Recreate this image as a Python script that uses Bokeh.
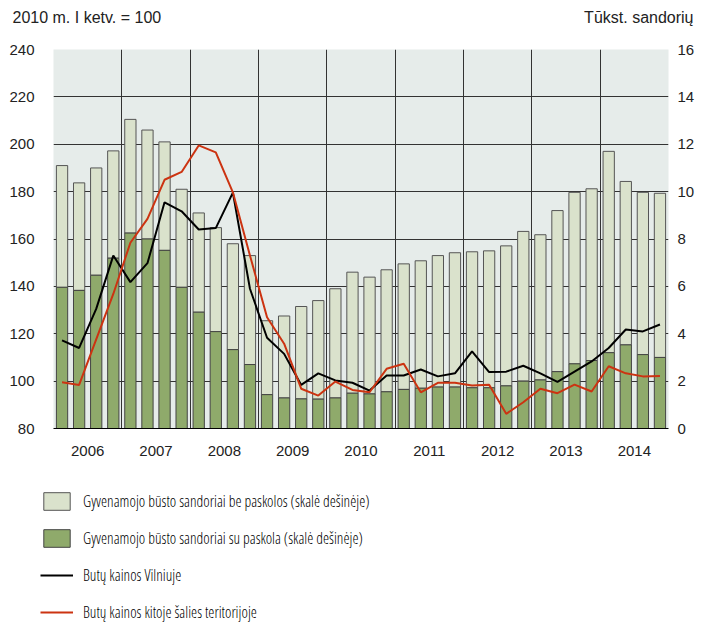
from bokeh.plotting import figure
from bokeh.layouts import column
from bokeh.models import (ColumnDataSource, Range1d, LinearAxis, FixedTicker,
                          Legend, LegendItem)
from bokeh.core.properties import value
from bokeh.embed import file_html
from bokeh.resources import INLINE

years = ["2006", "2007", "2008", "2009", "2010", "2011", "2012", "2013", "2014"]

with_loan = [5.96, 5.83, 6.47, 7.19, 8.25, 8.00, 7.52, 5.96, 4.91, 4.09, 3.33, 2.70,
             1.43, 1.29, 1.25, 1.24, 1.29, 1.49, 1.46, 1.55, 1.65, 1.70, 1.75, 1.75,
             1.72, 1.72, 1.80, 2.00, 2.05, 2.40, 2.73, 2.87, 3.20, 3.53, 3.12, 3.00]
without_loan = [5.14, 4.54, 4.53, 4.53, 4.80, 4.60, 4.58, 4.14, 4.19, 4.39, 4.47, 4.60,
                3.12, 3.46, 3.90, 4.16, 4.61, 5.11, 4.93, 5.15, 5.30, 5.38, 5.55, 5.67,
                5.74, 5.78, 5.91, 6.32, 6.13, 6.80, 7.24, 7.25, 8.50, 6.90, 6.85, 6.93]
vilnius = [117.2, 114.0, 130.5, 153.0, 141.8, 149.8, 175.5, 171.7, 164.0, 164.6, 179.6, 139.0,
           118.3, 111.5, 98.4, 103.3, 100.3, 99.3, 96.0, 102.4, 102.4, 104.9, 102.0, 103.3,
           112.6, 103.8, 104.0, 106.5, 103.3, 99.7, 104.0, 108.3, 114.0, 121.8, 121.0, 123.9]
other = [99.5, 98.4, 117.6, 136.8, 158.4, 168.5, 185.0, 188.3, 199.5, 196.6, 179.7, 153.0,
         127.0, 115.8, 96.8, 93.9, 99.8, 96.3, 95.3, 105.2, 107.3, 95.3, 99.3, 99.3,
         98.2, 98.5, 86.2, 91.1, 96.8, 94.9, 98.5, 95.6, 106.3, 103.3, 102.0, 102.2]

left_title = "2010 m. I ketv. = 100"
right_title = "Tūkst. sandorių"
legend_labels = ["Gyvenamojo būsto sandoriai be paskolos (skalė dešinėje)",
                 "Gyvenamojo būsto sandoriai su paskola (skalė dešinėje)",
                 "Butų kainos Vilniuje",
                 "Butų kainos kitoje šalies teritorijoje"]

n = len(with_loan)
xs = [i + 0.5 for i in range(n)]
total = [a + b for a, b in zip(with_loan, without_loan)]
src = ColumnDataSource(dict(x=xs, wl=with_loan, tot=total, vil=vilnius, oth=other))

FONT = "Liberation Sans"
LEG_FONT = "Open Sans Condensed Light"
TXT = "#222222"
BG = "#e6ecea"
LIGHT = "#dae2cc"
DARK = "#8faa6b"
RED = "#cc3311"
W = 702


def bare(fig):
    fig.grid.visible = False
    fig.outline_line_color = None
    fig.background_fill_color = "white"
    fig.border_fill_color = "white"
    try:
        fig.frame_align = False
    except Exception:
        pass


def style_labels(ax, size="15px"):
    ax.major_label_text_font = FONT
    ax.major_label_text_font_size = size
    ax.major_label_text_color = TXT


# ---- header with the two axis titles
hdr = figure(width=W, height=41, output_backend="svg", toolbar_location=None,
             x_range=Range1d(0, W), y_range=Range1d(0, 41),
             x_axis_location=None, y_axis_location=None,
             min_border=0, min_border_left=0, min_border_right=0,
             min_border_top=0, min_border_bottom=0)
bare(hdr)
hdr.text(x=[12], y=[24], text=[left_title], text_font=value(FONT), text_font_size="16px",
         text_color=TXT, text_baseline="middle", text_align="left")
hdr.text(x=[693], y=[24], text=[right_title], text_font=value(FONT), text_font_size="16px",
         text_color=TXT, text_baseline="middle", text_align="right")

# ---- main chart
p = figure(width=W, height=429, output_backend="svg", toolbar_location=None,
           x_range=Range1d(0, n), y_range=Range1d(80, 240),
           min_border_left=53, min_border_right=34, min_border_top=8, min_border_bottom=42)
p.background_fill_color = BG
p.border_fill_color = "white"
p.outline_line_color = None
p.extra_y_ranges = {"right": Range1d(0, 16)}

ly = p.yaxis[0]
ly.ticker = FixedTicker(ticks=list(range(80, 241, 20)))
ly.axis_line_color = None
ly.major_tick_line_color = None
ly.minor_tick_line_color = None
ly.major_label_standoff = 13
style_labels(ly)

ry = LinearAxis(y_range_name="right", ticker=FixedTicker(ticks=list(range(0, 17, 2))))
ry.axis_line_color = None
ry.major_tick_line_color = None
ry.minor_tick_line_color = None
ry.major_label_standoff = 3
style_labels(ry)
p.add_layout(ry, "right")

bx = p.below[0]
year_ticks = [4 * k + 2 for k in range(len(years))]
bx.ticker = FixedTicker(ticks=year_ticks)
bx.major_label_overrides = {t: y for t, y in zip(year_ticks, years)}
bx.axis_line_color = "black"
bx.major_tick_line_color = None
bx.minor_tick_line_color = None
bx.major_label_standoff = 11
style_labels(bx)

p.xgrid.ticker = FixedTicker(ticks=[4 * k for k in range(1, len(years))])
p.xgrid.grid_line_color = "#333333"
p.ygrid.ticker = FixedTicker(ticks=list(range(100, 241, 20)))
p.ygrid.grid_line_color = "#333333"

p.vbar(x="x", width=0.66, bottom="wl", top="tot", source=src, y_range_name="right",
       fill_color=LIGHT, line_color="#555555", line_width=1)
p.vbar(x="x", width=0.66, bottom=0, top="wl", source=src, y_range_name="right",
       fill_color=DARK, line_color="#444444", line_width=1)
p.line("x", "vil", source=src, line_color="black", line_width=2)
p.line("x", "oth", source=src, line_color=RED, line_width=2)

# ---- legend panel (its renderers carry the real data but lie outside its view)
lg = figure(width=W, height=154, output_backend="svg", toolbar_location=None,
            x_range=Range1d(-1000, -999), y_range=Range1d(-1000, -999),
            x_axis_location=None, y_axis_location=None,
            min_border=0, min_border_left=0, min_border_right=0,
            min_border_top=0, min_border_bottom=0)
bare(lg)
k1 = lg.vbar(x="x", width=0.66, bottom="wl", top="tot", source=src,
             fill_color=LIGHT, line_color="#555555", line_width=1)
k2 = lg.vbar(x="x", width=0.66, bottom=0, top="wl", source=src,
             fill_color=DARK, line_color="#444444", line_width=1)
k3 = lg.line("x", "vil", source=src, line_color="black", line_width=2)
k4 = lg.line("x", "oth", source=src, line_color=RED, line_width=2)
legend = Legend(items=[LegendItem(label=t, renderers=[r]) for t, r in
                       zip(legend_labels, [k1, k2, k3, k4])],
                location=(40, 1))
legend.glyph_width = 33
legend.glyph_height = 22
legend.label_height = 22
legend.spacing = 15
legend.padding = 0
legend.margin = 0
legend.label_standoff = 10
legend.border_line_color = None
legend.background_fill_alpha = 0
legend.label_text_font = LEG_FONT
legend.label_text_font_size = "15.5px"
legend.label_text_color = "#000000"
lg.add_layout(legend, "center")

layout = column(hdr, p, lg, spacing=0)
open("out.html", "w").write(file_html(layout, INLINE))
